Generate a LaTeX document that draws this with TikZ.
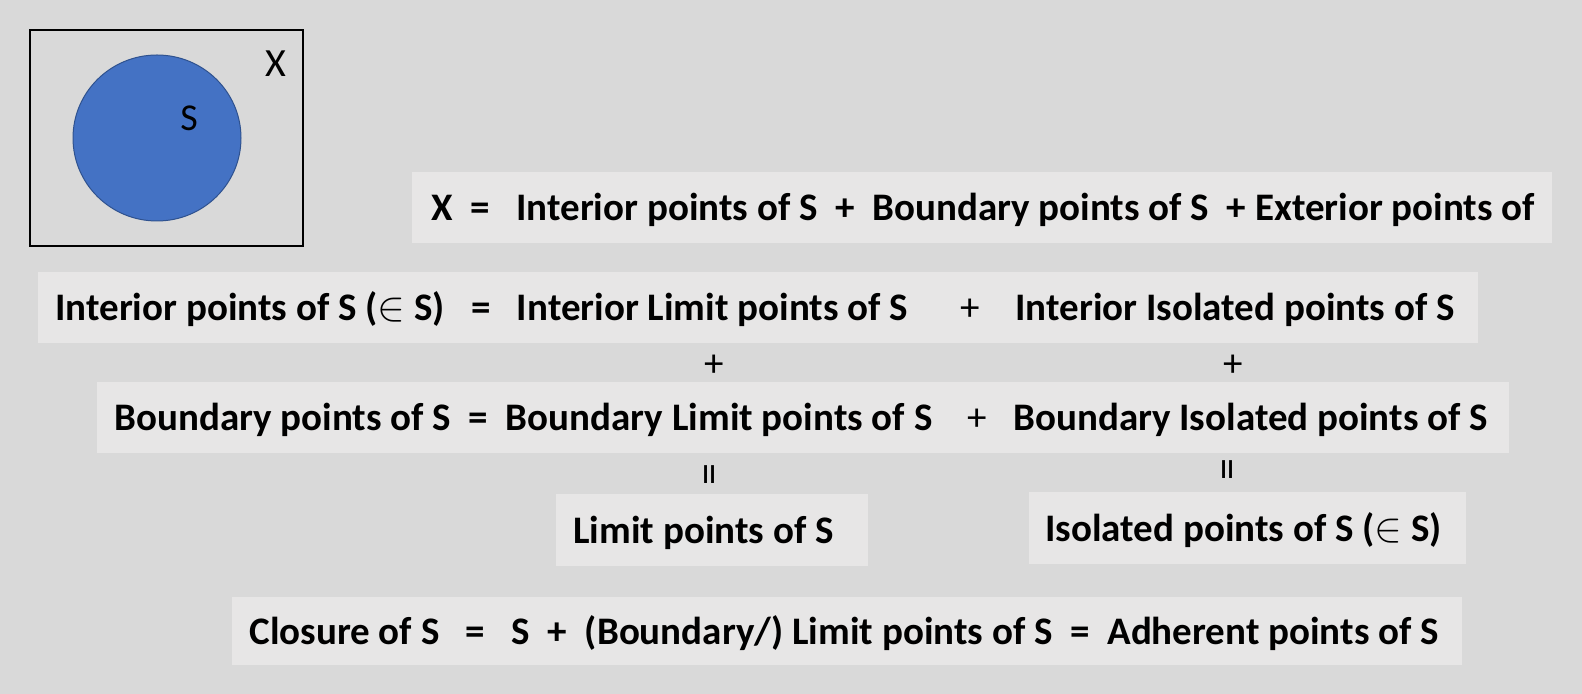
\documentclass[tikz,border=0pt]{standalone}
\usepackage{fontspec}
\setmainfont{Carlito}
\usepackage{tikz}
\usetikzlibrary{positioning}

\definecolor{bggray}{RGB}{217,217,217}
\definecolor{boxgray}{RGB}{231,230,230}
\definecolor{setblue}{RGB}{68,114,196}
\definecolor{setedge}{RGB}{47,82,143}

\begin{document}
\begin{tikzpicture}[x=0.5pt, y=-0.5pt,
  eqbox/.style={fill=boxgray, anchor=north west, inner sep=0pt},
  eqtext/.style={inner sep=0pt, text height=12.6pt, text depth=0pt,
    font=\fontsize{19.5}{23}\selectfont\bfseries},
  sign/.style={inner sep=0pt, font=\fontsize{19.5}{23}\selectfont}]

  \fill[bggray] (0,0) rectangle (1582,694);
  \useasboundingbox (0,0) rectangle (1582,694);

  % the set S inside X
  \draw[line width=1pt] (30,30) rectangle (303,246);
  \draw[fill=setblue, draw=setedge, line width=0.5pt] (157,138) circle [x radius=42pt, y radius=41.5pt];
  \node[sign, font=\fontsize{20}{24}\selectfont] (xlab) at (276,64) {X};
  \node[sign, font=\fontsize{19}{23}\selectfont] (slab) at (189,118) {S};

  % boxes
  \node[eqbox, minimum width=570pt, minimum height=35.5pt] (b1) at (412,172) {};
  \node[eqbox, minimum width=720pt, minimum height=35.5pt] (b2) at (38,272) {};
  \node[eqbox, minimum width=706pt, minimum height=35.5pt] (b3) at (97,382) {};
  \node[eqbox, minimum width=156pt, minimum height=36pt]   (b4) at (556,494) {};
  \node[eqbox, minimum width=218.5pt, minimum height=36pt] (b5) at (1029,492) {};
  \node[eqbox, minimum width=615pt, minimum height=34pt]   (b6) at (232,597) {};

  % equations
  \node[eqtext, right=9.5pt of b1.west] (t1)
    {X~~=~~~Interior points of S~~+~~Boundary points of S~~+ Exterior points of};
  \node[eqtext, right=8.5pt of b2.west] (t2)
    {Interior points of S ($\in$ S)~~~=~~~Interior Limit points of S~~~~~~{\mdseries+}~~~~Interior Isolated points of S};
  \node[eqtext, right=8.5pt of b3.west] (t3)
    {Boundary points of S~~=~~Boundary Limit points of S~~~~{\mdseries+}~~~Boundary Isolated points of S};
  \node[eqtext, right=8.5pt of b4.west] (t4) {Limit points of S};
  \node[eqtext, right=8pt of b5.west]   (t5) {Isolated points of S ($\in$ S)};
  \node[eqtext, right=8.5pt of b6.west] (t6)
    {Closure of S~~~=~~~S~~+~~(Boundary/) Limit points of S~~=~~Adherent points of S};

  % signs between the rows
  \node[sign] (plusl) at (714,366) {+};
  \node[sign] (plusr) at (1233,366) {+};
  \node[sign, rotate=90, font=\fontsize{22}{24}\selectfont] (eql) at (714,475) {=};
  \node[sign, rotate=90, font=\fontsize{22}{24}\selectfont] (eqr) at (1232,470) {=};
\end{tikzpicture}
\end{document}
